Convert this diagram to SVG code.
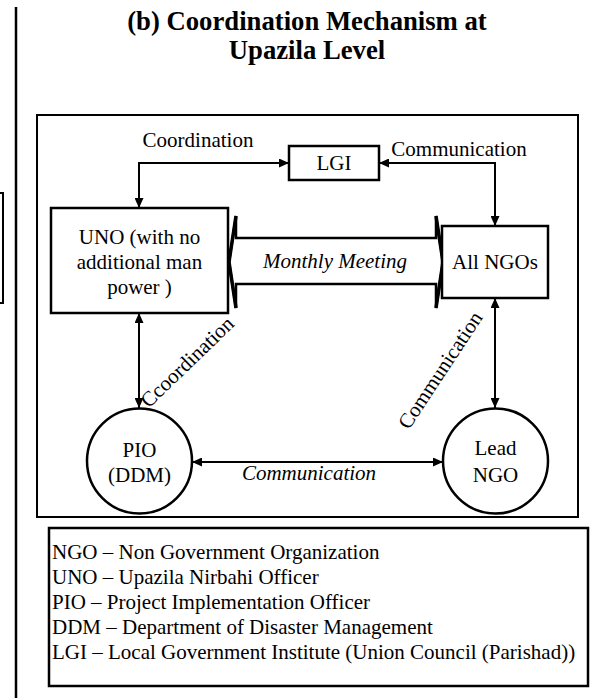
<svg xmlns="http://www.w3.org/2000/svg" width="590" height="698" viewBox="0 0 590 698" font-family="'Liberation Serif', 'Times New Roman', Times, Tinos, 'DejaVu Serif', serif">
<defs>
<marker id="ah" markerUnits="userSpaceOnUse" markerWidth="10" markerHeight="9" refX="10" refY="4.5" orient="auto-start-reverse">
<path d="M0,0 L10,4.5 L0,9 z" fill="#000"/>
</marker>
</defs>
<style>
text{font-family:'Liberation Serif','Times New Roman',Times,Tinos,'DejaVu Serif',serif;font-size:21px;fill:#000}
.title{font-size:26.7px;font-weight:bold}
.it{font-style:italic}
.box{fill:#fff;stroke:#000;stroke-width:2.5}
.frame{fill:none;stroke:#000;stroke-width:2}
.conn{fill:none;stroke:#000;stroke-width:2}
</style>
<rect width="590" height="698" fill="#fff"/>
<line x1="16" y1="7" x2="16" y2="698" stroke="#000" stroke-width="2.5"/>
<rect x="-10" y="193" width="13" height="110" class="frame"/>
<g id="title">
<text class="title" x="307" y="30" text-anchor="middle">(b) Coordination Mechanism at</text>
<text class="title" x="307" y="59" text-anchor="middle">Upazila Level</text>
</g>
<rect id="frame" x="37" y="115" width="541" height="402" class="frame"/>
<g id="connectors">
<path class="conn" d="M289,163 H139 V208" marker-start="url(#ah)" marker-end="url(#ah)"/>
<path class="conn" d="M379,163 H495 V226" marker-start="url(#ah)" marker-end="url(#ah)"/>
<path class="conn" d="M139,313 V408" marker-start="url(#ah)" marker-end="url(#ah)"/>
<path class="conn" d="M495,298 V408" marker-start="url(#ah)" marker-end="url(#ah)"/>
<path class="conn" d="M192,462 H443" marker-start="url(#ah)" marker-end="url(#ah)"/>
<g id="monthly-meeting">
<path d="M236,238 L436,238 L436,216 L443,262 L436,308 L436,284 L236,284 L236,308 L229,262 L236,216 Z" fill="#fff" stroke="#000" stroke-width="2.5" stroke-linejoin="miter"/>
<path d="M236,216 L229,262 L236,308 M436,216 L443,262 L436,308" fill="none" stroke="#000" stroke-width="3.5"/>
<text class="it" x="335" y="268" text-anchor="middle">Monthly Meeting</text>
</g>
<text x="198" y="147" text-anchor="middle">Coordination</text>
<text x="459" y="156" text-anchor="middle">Communication</text>
<text x="192" y="367" text-anchor="middle" transform="rotate(-44 192 367)">Ccoordination</text>
<text x="446" y="374" text-anchor="middle" transform="rotate(-56.5 446 374)">Communication</text>
<text class="it" x="309" y="480" text-anchor="middle">Communication</text>
</g>
<g id="lgi">
<rect x="289" y="146" width="90" height="34" class="box"/>
<text x="334" y="170" text-anchor="middle">LGI</text>
</g>
<g id="uno">
<rect x="51" y="208" width="177" height="105" class="box"/>
<text x="139.5" y="244" text-anchor="middle">UNO (with no</text>
<text x="139.5" y="269" text-anchor="middle">additional man</text>
<text x="139.5" y="294" text-anchor="middle">power )</text>
</g>
<g id="all-ngos">
<rect x="442" y="226" width="106" height="72" class="box"/>
<text x="495" y="269" text-anchor="middle">All NGOs</text>
</g>
<g id="pio">
<circle cx="139.5" cy="461" r="52.5" class="box"/>
<text x="139.5" y="457" text-anchor="middle">PIO</text>
<text x="139.5" y="482" text-anchor="middle">(DDM)</text>
</g>
<g id="lead-ngo">
<circle cx="495.5" cy="461" r="52.5" class="box"/>
<text x="495.5" y="455" text-anchor="middle">Lead</text>
<text x="495.5" y="482" text-anchor="middle">NGO</text>
</g>
<g id="legend">
<rect x="49" y="528" width="539" height="158" class="box"/>
<text x="52" y="559">NGO – Non Government Organization</text>
<text x="52" y="584">UNO – Upazila Nirbahi Officer</text>
<text x="52" y="609">PIO – Project Implementation Officer</text>
<text x="52" y="634">DDM – Department of Disaster Management</text>
<text x="52" y="659">LGI – Local Government Institute (Union Council (Parishad))</text>
</g>
</svg>
